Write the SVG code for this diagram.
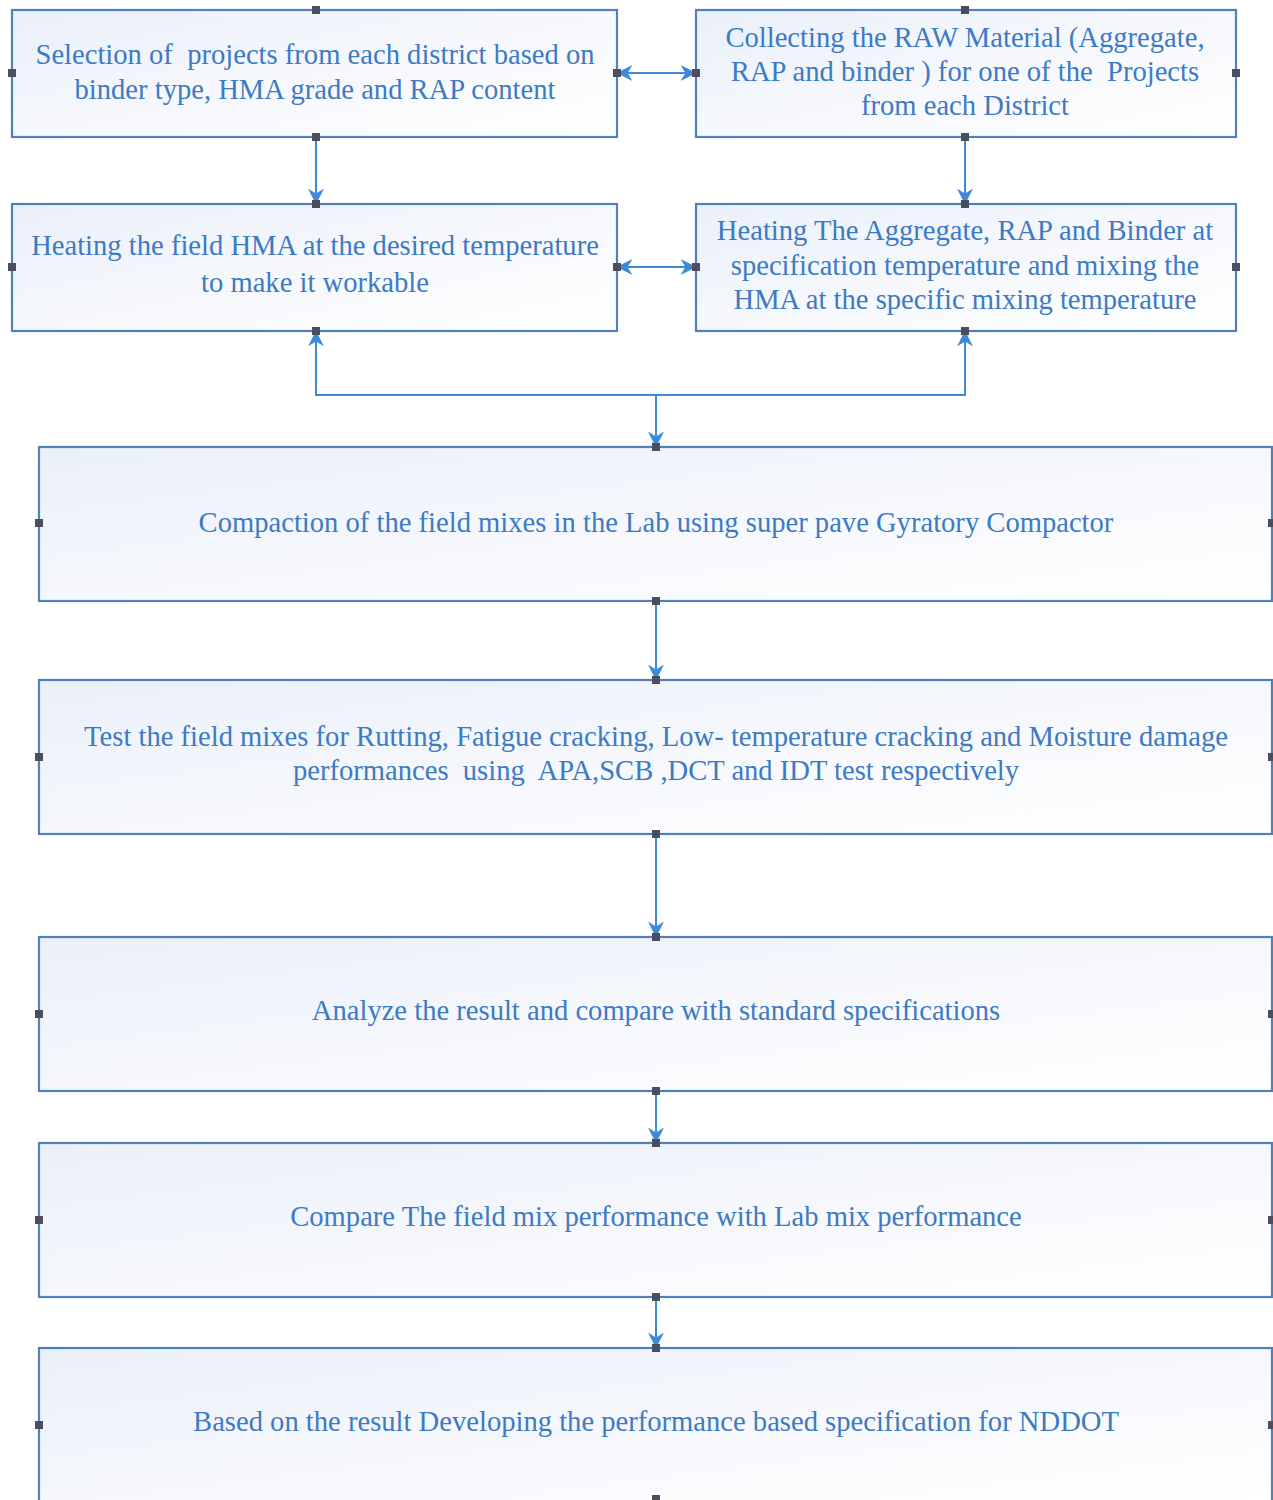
<svg xmlns="http://www.w3.org/2000/svg" width="1273" height="1500" viewBox="0 0 1273 1500">
<style>
.box{fill:url(#bg);stroke:#4f80b8;stroke-width:2.2}
.t{font-family:'Liberation Serif','Times New Roman',Tinos,serif;font-size:28.6px;fill:#3c7bc4;text-anchor:middle;white-space:pre}
.c{stroke:#3d8ad9;stroke-width:2;fill:none}
.dot{fill:#4a4e5e}
</style>
<defs>
<linearGradient id="bg" x1="0" y1="0" x2="1" y2="1">
<stop offset="0" stop-color="#eaf0f9"/>
<stop offset="0.6" stop-color="#f8f9fd"/>
<stop offset="1" stop-color="#ffffff"/>
</linearGradient>
<marker id="ah2" viewBox="0 0 10 10" refX="9" refY="5" markerWidth="16" markerHeight="16" orient="auto-start-reverse" markerUnits="userSpaceOnUse">
<path d="M0,0 L10,5 L0,10 L3,5 z" fill="#3d8ad9"/>
</marker>
</defs>
<rect width="1273" height="1500" fill="#ffffff"/>
<g id="connectors">
<line class="c" x1="316" y1="137" x2="316" y2="203" marker-end="url(#ah2)"/>
<line class="c" x1="965" y1="137" x2="965" y2="203" marker-end="url(#ah2)"/>
<line class="c" x1="618" y1="73" x2="695" y2="73" marker-start="url(#ah2)" marker-end="url(#ah2)"/>
<line class="c" x1="618" y1="267" x2="695" y2="267" marker-start="url(#ah2)" marker-end="url(#ah2)"/>
<polyline class="c" points="316,332 316,395 965,395 965,332" marker-start="url(#ah2)" marker-end="url(#ah2)"/>
<line class="c" x1="656" y1="395" x2="656" y2="446" marker-end="url(#ah2)"/>
<line class="c" x1="656" y1="602" x2="656" y2="679" marker-end="url(#ah2)"/>
<line class="c" x1="656" y1="835" x2="656" y2="936" marker-end="url(#ah2)"/>
<line class="c" x1="656" y1="1092" x2="656" y2="1142" marker-end="url(#ah2)"/>
<line class="c" x1="656" y1="1298" x2="656" y2="1347" marker-end="url(#ah2)"/>
</g>
<g id="n1">
<rect class="box" x="12" y="10" width="605" height="127"/>
<text class="t" x="315" y="64">Selection of  projects from each district based on</text>
<text class="t" x="315" y="99">binder type, HMA grade and RAP content</text>
<rect class="dot" x="312" y="6" width="8" height="8"/><rect class="dot" x="312" y="133" width="8" height="8"/>
<rect class="dot" x="8" y="69" width="8" height="8"/><rect class="dot" x="613" y="69" width="8" height="8"/>
</g>
<g id="n2">
<rect class="box" x="696" y="10" width="540" height="127"/>
<text class="t" x="965" y="47">Collecting the RAW Material (Aggregate,</text>
<text class="t" x="965" y="81">RAP and binder ) for one of the  Projects</text>
<text class="t" x="965" y="115">from each District</text>
<rect class="dot" x="961" y="6" width="8" height="8"/><rect class="dot" x="961" y="133" width="8" height="8"/>
<rect class="dot" x="692" y="69" width="8" height="8"/><rect class="dot" x="1232" y="69" width="8" height="8"/>
</g>
<g id="n3">
<rect class="box" x="12" y="204" width="605" height="127"/>
<text class="t" x="315" y="255">Heating the field HMA at the desired temperature</text>
<text class="t" x="315" y="292">to make it workable</text>
<rect class="dot" x="312" y="200" width="8" height="8"/><rect class="dot" x="312" y="327" width="8" height="8"/>
<rect class="dot" x="8" y="263" width="8" height="8"/><rect class="dot" x="613" y="263" width="8" height="8"/>
</g>
<g id="n4">
<rect class="box" x="696" y="204" width="540" height="127"/>
<text class="t" x="965" y="240">Heating The Aggregate, RAP and Binder at</text>
<text class="t" x="965" y="275">specification temperature and mixing the</text>
<text class="t" x="965" y="309">HMA at the specific mixing temperature</text>
<rect class="dot" x="961" y="200" width="8" height="8"/><rect class="dot" x="961" y="327" width="8" height="8"/>
<rect class="dot" x="692" y="263" width="8" height="8"/><rect class="dot" x="1232" y="263" width="8" height="8"/>
</g>
<g id="n5">
<rect class="box" x="39" y="447" width="1233" height="154"/>
<text class="t" x="656" y="532">Compaction of the field mixes in the Lab using super pave Gyratory Compactor</text>
<rect class="dot" x="652" y="443" width="8" height="8"/><rect class="dot" x="652" y="597" width="8" height="8"/>
<rect class="dot" x="35" y="519" width="8" height="8"/><rect class="dot" x="1268" y="519" width="8" height="8"/>
</g>
<g id="n6">
<rect class="box" x="39" y="680" width="1233" height="154"/>
<text class="t" x="656" y="746">Test the field mixes for Rutting, Fatigue cracking, Low- temperature cracking and Moisture damage</text>
<text class="t" x="656" y="780">performances  using  APA,SCB ,DCT and IDT test respectively</text>
<rect class="dot" x="652" y="676" width="8" height="8"/><rect class="dot" x="652" y="830" width="8" height="8"/>
<rect class="dot" x="35" y="753" width="8" height="8"/><rect class="dot" x="1268" y="753" width="8" height="8"/>
</g>
<g id="n7">
<rect class="box" x="39" y="937" width="1233" height="154"/>
<text class="t" x="656" y="1020">Analyze the result and compare with standard specifications</text>
<rect class="dot" x="652" y="933" width="8" height="8"/><rect class="dot" x="652" y="1087" width="8" height="8"/>
<rect class="dot" x="35" y="1010" width="8" height="8"/><rect class="dot" x="1268" y="1010" width="8" height="8"/>
</g>
<g id="n8">
<rect class="box" x="39" y="1143" width="1233" height="154"/>
<text class="t" x="656" y="1226">Compare The field mix performance with Lab mix performance</text>
<rect class="dot" x="652" y="1139" width="8" height="8"/><rect class="dot" x="652" y="1293" width="8" height="8"/>
<rect class="dot" x="35" y="1216" width="8" height="8"/><rect class="dot" x="1268" y="1216" width="8" height="8"/>
</g>
<g id="n9">
<rect class="box" x="39" y="1348" width="1233" height="154"/>
<text class="t" x="656" y="1431">Based on the result Developing the performance based specification for NDDOT</text>
<rect class="dot" x="652" y="1344" width="8" height="8"/><rect class="dot" x="652" y="1495" width="8" height="8"/>
<rect class="dot" x="35" y="1421" width="8" height="8"/><rect class="dot" x="1268" y="1421" width="8" height="8"/>
</g>
</svg>
